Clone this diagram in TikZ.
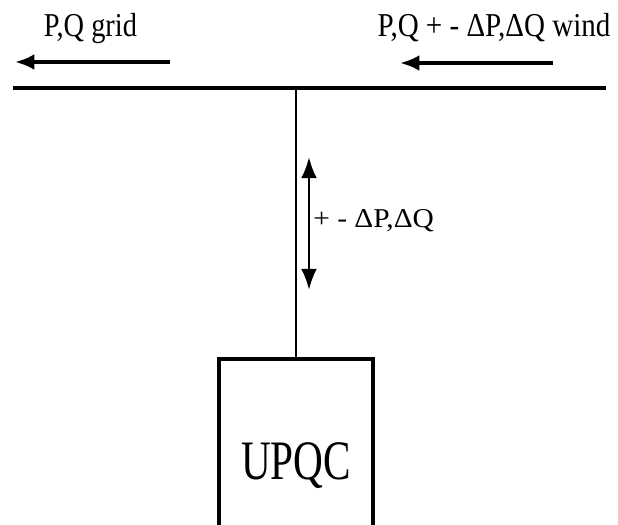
\documentclass[tikz,border=0pt]{standalone}
\usepackage{fontspec}
\setmainfont{Liberation Serif}
\usetikzlibrary{arrows.meta}
\begin{document}
\begin{tikzpicture}[x=0.02cm, y=-0.02cm,
    flow/.style={-{Latex[length=11pt, width=9pt]}, line width=2.5pt},
    lbl/.style={inner sep=0pt, anchor=base, font=\fontsize{19pt}{22pt}\selectfont}]
    \useasboundingbox (0,0) rectangle (618,524);
    \clip (0,0) rectangle (618,524);

    % Bus
    \coordinate (busL) at (13,88);
    \coordinate (busR) at (606,88);
    \coordinate (tap) at (296,88);
    \draw[line width=2.2pt] (busL) -- (busR);

    % Power flows on the bus
    \coordinate (gridS) at (170,62);
    \coordinate (gridE) at (15,62);
    \draw[flow] (gridS) -- (gridE);
    \node[lbl] (gridlbl) at (90.5,36.5) {\scalebox{0.85}[1]{P,Q grid}};

    \coordinate (windS) at (553,63);
    \coordinate (windE) at (400,63);
    \draw[flow] (windS) -- (windE);
    \node[lbl] (windlbl) at (494,36.5) {\scalebox{0.87}[1]{P,Q + - ΔP,ΔQ wind}};

    % The compensator
    \node[draw, line width=1.8pt, minimum width=3.08cm, minimum height=4.1cm,
          text height=21pt, text depth=0pt, inner sep=0pt,
          font=\fontsize{31.7pt}{36pt}\selectfont] (upqc) at (296,461.5)
          {\scalebox{0.74}[1]{UPQC}};
    \draw[line width=1.7pt] (tap) -- (upqc.north);

    % Exchanged power
    \coordinate (exTop) at (309,157);
    \coordinate (exBot) at (309,290);
    \draw[{Latex[length=12pt, width=9pt]}-{Latex[length=12pt, width=9pt]}, line width=1.6pt] (exTop) -- (exBot);
    \node[inner sep=0pt, anchor=base west, font=\fontsize{15.5pt}{18pt}\selectfont] (exlbl) at (313,227)
          {\scalebox{1.08}[1]{+ - ΔP,ΔQ}};
\end{tikzpicture}
\end{document}
